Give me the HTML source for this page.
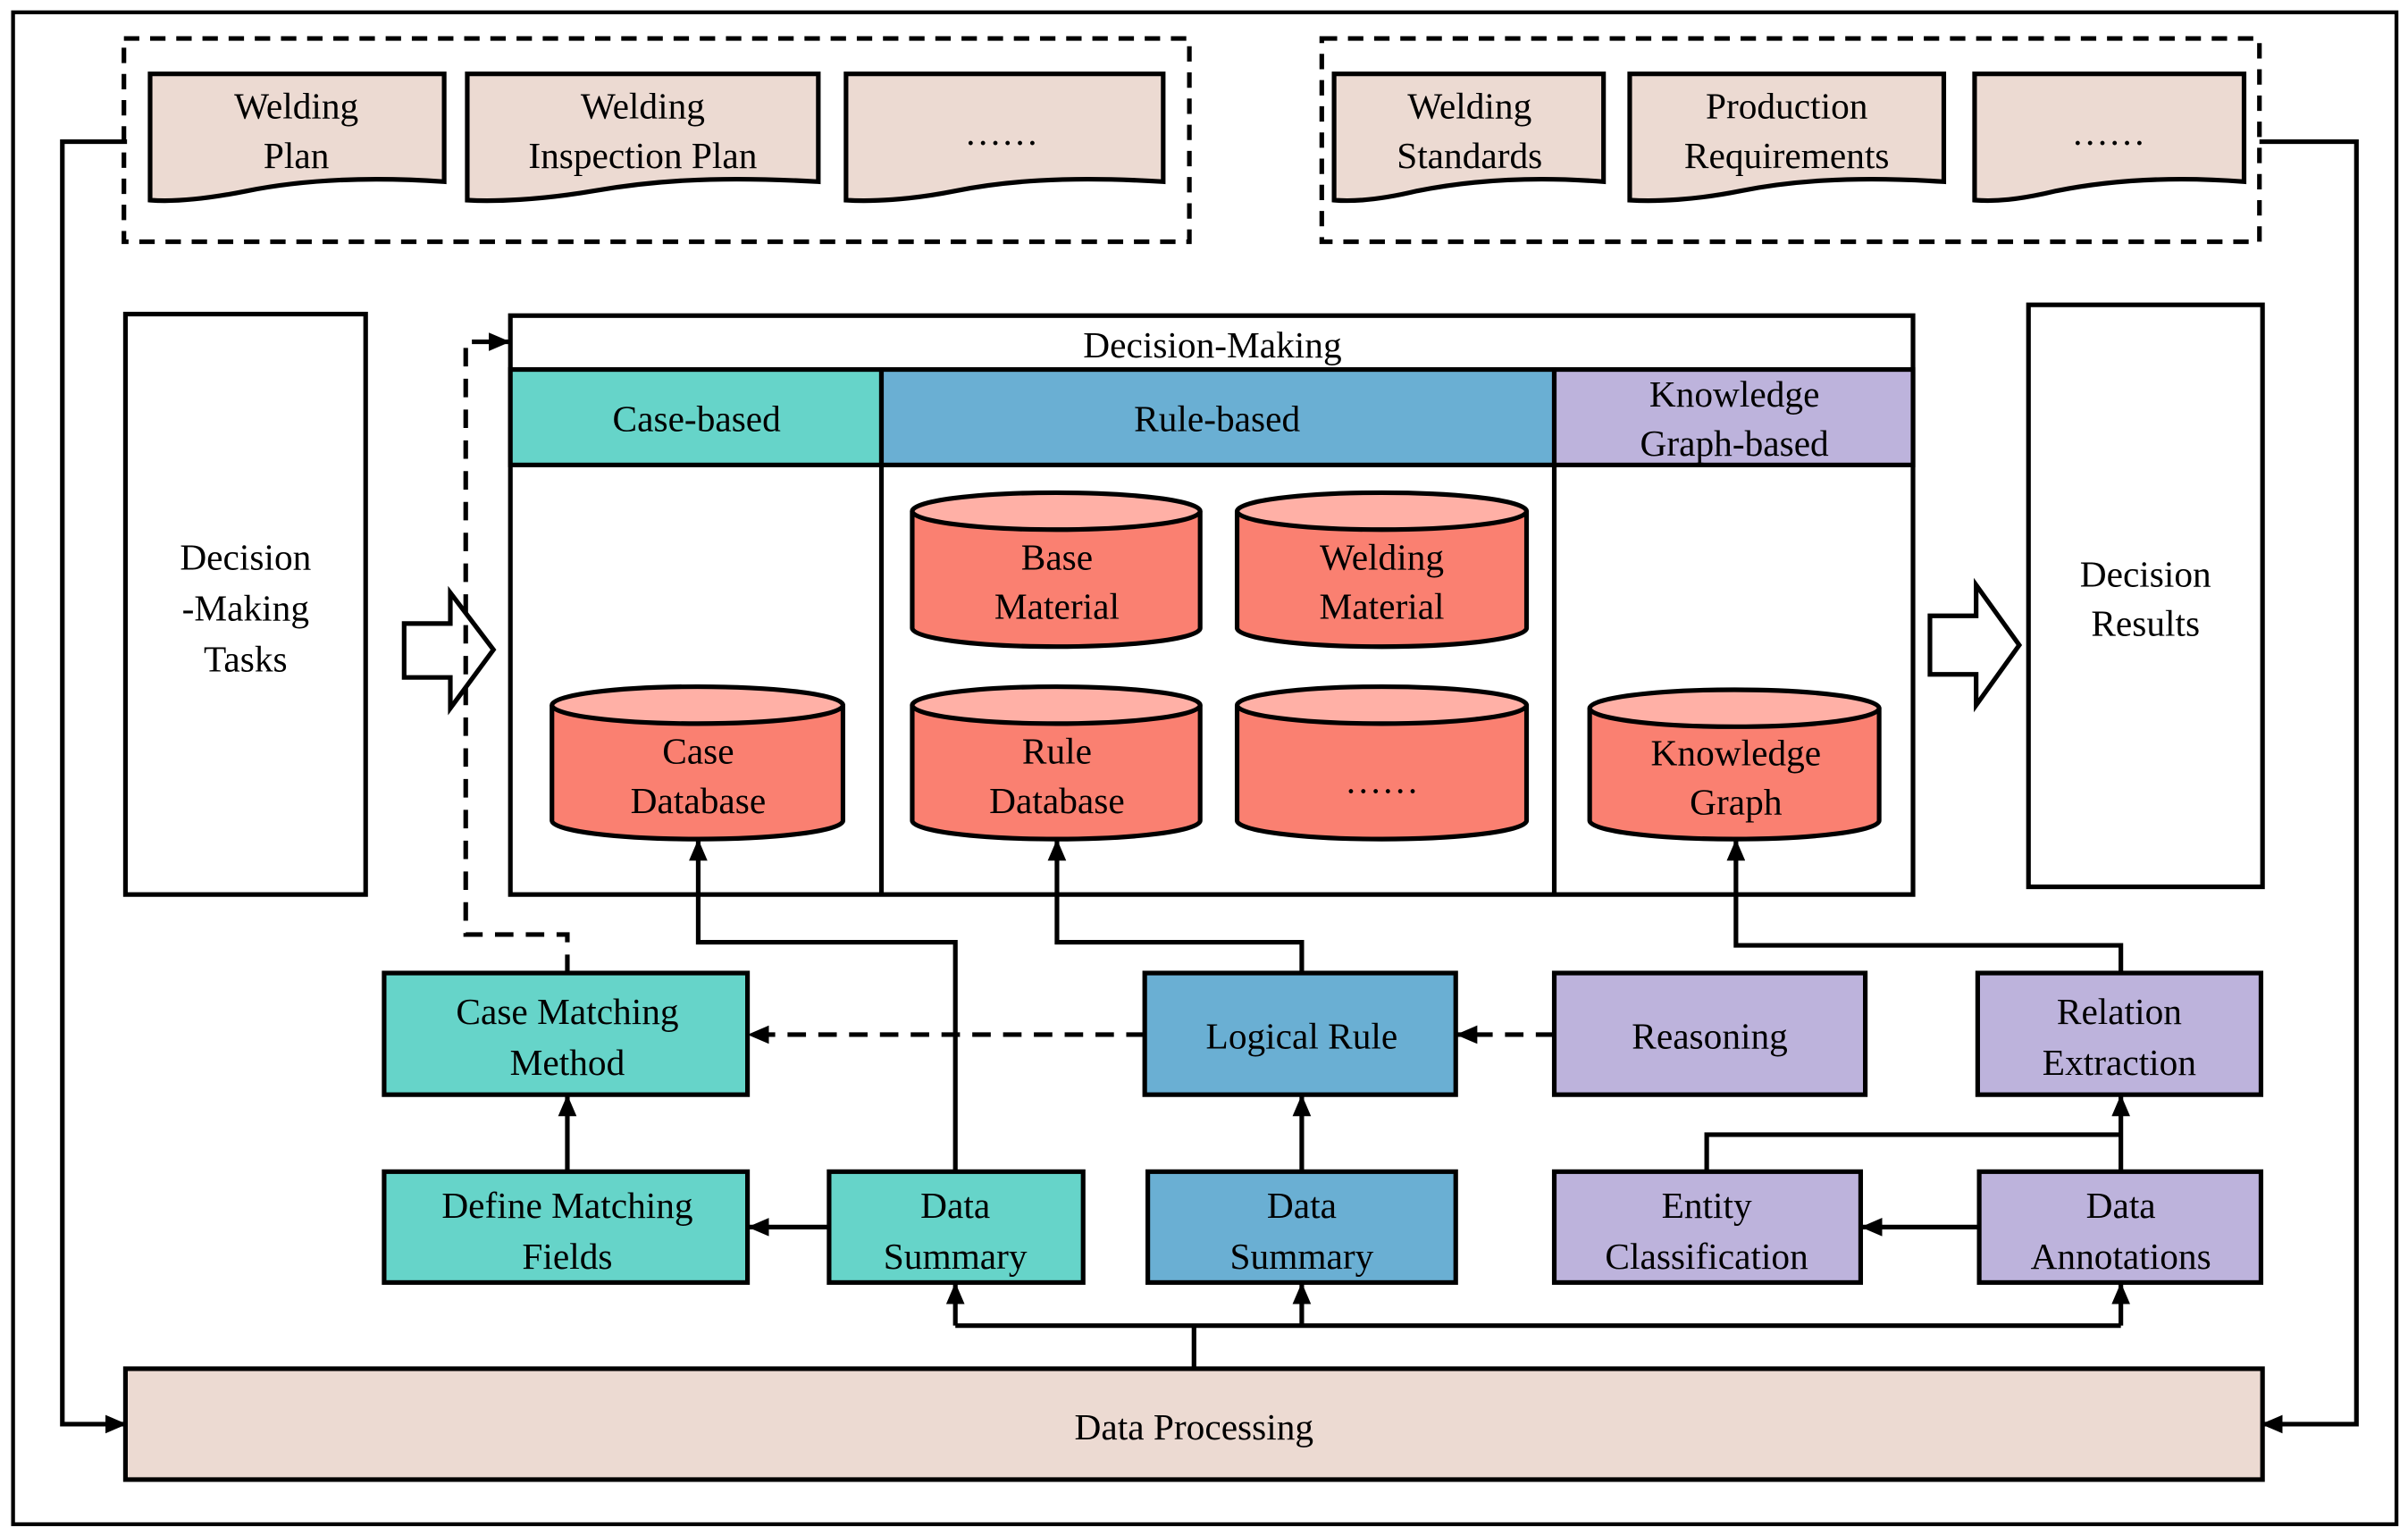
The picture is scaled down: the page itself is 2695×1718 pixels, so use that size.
<!DOCTYPE html>
<html><head><meta charset="utf-8"><style>
html,body{margin:0;padding:0;background:#fff}
svg{display:block}
text{font-family:"Liberation Serif",serif;font-size:24px;fill:#000;text-anchor:middle}
</style></head><body>
<svg width="2695" height="1718" viewBox="0 0 1563 997" xmlns="http://www.w3.org/2000/svg">
<defs>
<marker id="a" viewBox="0 0 14 12" refX="13" refY="6" markerWidth="14" markerHeight="12" orient="auto" markerUnits="userSpaceOnUse">
<path d="M0,0 L14,6 L0,12 z" fill="#000"/>
</marker>
</defs>
<g stroke="#000" stroke-width="3" fill="none">
<rect x="8" y="8" width="1548" height="982" stroke-width="2.5"/>
<rect x="80" y="25" width="692" height="132" stroke-dasharray="10,7"/>
<rect x="858" y="25" width="609" height="132" stroke-dasharray="10,7"/>
</g>
<g stroke="#000" stroke-width="3" fill="#ecdad2">
<path d="M97,48 H288 V118 C230,114 190,118 160,124 C130,130 110,131 97,130 Z"/>
<path d="M303,48 H531 V118 C460,114 420,118 385,124 C350,130 320,131 303,130 Z"/>
<path d="M549,48 H755 V118 C690,114 650,118 620,124 C590,130 565,131 549,130 Z"/>
<path d="M866,48 H1041 V118 C990,114 950,118 920,124 C895,130 878,131 866,130 Z"/>
<path d="M1058,48 H1262 V118 C1200,114 1160,118 1130,124 C1100,130 1075,131 1058,130 Z"/>
<path d="M1282,48 H1457 V118 C1405,114 1365,118 1335,124 C1310,130 1295,131 1282,130 Z"/>
</g>
<text x="192" y="77">Welding</text><text x="192" y="109">Plan</text>
<text x="417" y="77">Welding</text><text x="417" y="109">Inspection Plan</text>
<text x="650" y="94">……</text>
<text x="954" y="77">Welding</text><text x="954" y="109">Standards</text>
<text x="1160" y="77">Production</text><text x="1160" y="109">Requirements</text>
<text x="1369" y="94">……</text>

<g stroke="#000" stroke-width="3" fill="#fff">
<rect x="81" y="204" width="156" height="377"/>
<rect x="1317" y="198" width="152" height="378"/>
<path d="M262,405 H292 V385 L320,422 L292,460 V440 H262 Z"/>
<path d="M1253,400 H1283 V380 L1311,419 L1283,458 V438 H1253 Z"/>
</g>
<text x="159" y="370">Decision</text><text x="159" y="403">-Making</text><text x="159" y="436">Tasks</text>
<text x="1393" y="381">Decision</text><text x="1393" y="413">Results</text>

<g stroke="#000" stroke-width="3">
<rect x="331" y="205" width="911" height="376" fill="#fff"/>
<rect x="331" y="240" width="241" height="62" fill="#66d4c9"/>
<rect x="572" y="240" width="437" height="62" fill="#6aafd3"/>
<rect x="1009" y="240" width="233" height="62" fill="#bdb3dc"/>
<line x1="572" y1="302" x2="572" y2="581"/>
<line x1="1009" y1="302" x2="1009" y2="581"/>
</g>
<text x="787" y="232">Decision-Making</text>
<text x="452" y="280">Case-based</text>
<text x="790" y="280">Rule-based</text>
<text x="1126" y="264">Knowledge</text><text x="1126" y="296">Graph-based</text>

<g stroke="#000" stroke-width="3">
<path d="M592,332 V408 A93.5,12 0 0 0 779,408 V332" fill="#fa8071"/><ellipse cx="685.5" cy="332" rx="93.5" ry="12" fill="#ffb0a6"/>
<path d="M803,332 V408 A94,12 0 0 0 991,408 V332" fill="#fa8071"/><ellipse cx="897" cy="332" rx="94" ry="12" fill="#ffb0a6"/>
<path d="M358,458 V533 A94.5,12 0 0 0 547,533 V458" fill="#fa8071"/><ellipse cx="452.5" cy="458" rx="94.5" ry="12" fill="#ffb0a6"/>
<path d="M592,458 V533 A93.5,12 0 0 0 779,533 V458" fill="#fa8071"/><ellipse cx="685.5" cy="458" rx="93.5" ry="12" fill="#ffb0a6"/>
<path d="M803,458 V533 A94,12 0 0 0 991,533 V458" fill="#fa8071"/><ellipse cx="897" cy="458" rx="94" ry="12" fill="#ffb0a6"/>
<path d="M1032,460 V533 A94,12 0 0 0 1220,533 V460" fill="#fa8071"/><ellipse cx="1126" cy="460" rx="94" ry="12" fill="#ffb0a6"/>
</g>
<text x="686" y="370">Base</text><text x="686" y="402">Material</text>
<text x="897" y="370">Welding</text><text x="897" y="402">Material</text>
<text x="453" y="496">Case</text><text x="453" y="528">Database</text>
<text x="686" y="496">Rule</text><text x="686" y="528">Database</text>
<text x="897" y="515">……</text>
<text x="1127" y="497">Knowledge</text><text x="1127" y="529">Graph</text>

<g stroke="#000" stroke-width="3">
<rect x="249" y="632" width="236" height="79" fill="#66d4c9"/>
<rect x="743" y="632" width="202" height="79" fill="#6aafd3"/>
<rect x="1009" y="632" width="202" height="79" fill="#bdb3dc"/>
<rect x="1284" y="632" width="184" height="79" fill="#bdb3dc"/>
<rect x="249" y="761" width="236" height="72" fill="#66d4c9"/>
<rect x="538" y="761" width="165" height="72" fill="#66d4c9"/>
<rect x="745" y="761" width="200" height="72" fill="#6aafd3"/>
<rect x="1009" y="761" width="199" height="72" fill="#bdb3dc"/>
<rect x="1285" y="761" width="183" height="72" fill="#bdb3dc"/>
<rect x="81" y="889" width="1388" height="72" fill="#ecdad2"/>
</g>
<text x="368" y="665">Case Matching</text><text x="368" y="698">Method</text>
<text x="845" y="681">Logical Rule</text>
<text x="1110" y="681">Reasoning</text>
<text x="1376" y="665">Relation</text><text x="1376" y="698">Extraction</text>
<text x="368" y="791">Define Matching</text><text x="368" y="824">Fields</text>
<text x="620" y="791">Data</text><text x="620" y="824">Summary</text>
<text x="845" y="791">Data</text><text x="845" y="824">Summary</text>
<text x="1108" y="791">Entity</text><text x="1108" y="824">Classification</text>
<text x="1377" y="791">Data</text><text x="1377" y="824">Annotations</text>
<text x="775" y="935">Data Processing</text>

<g stroke="#000" stroke-width="3" fill="none">
<polyline points="82,92 40,92 40,925 81,925" marker-end="url(#a)"/>
<polyline points="1467,92 1530,92 1530,925 1469,925" marker-end="url(#a)"/>
<line x1="775" y1="889" x2="775" y2="861"/>
<polyline points="620,861 1377,861"/>
<line x1="620" y1="861" x2="620" y2="834" marker-end="url(#a)"/>
<line x1="845" y1="861" x2="845" y2="834" marker-end="url(#a)"/>
<line x1="1377" y1="861" x2="1377" y2="834" marker-end="url(#a)"/>
<line x1="538" y1="797" x2="486" y2="797" marker-end="url(#a)"/>
<line x1="368" y1="761" x2="368" y2="712" marker-end="url(#a)"/>
<polyline points="620,761 620,612 453,612 453,546" marker-end="url(#a)"/>
<polyline points="845,632 845,612 686,612 686,546" marker-end="url(#a)"/>
<line x1="845" y1="761" x2="845" y2="712" marker-end="url(#a)"/>
<line x1="743" y1="672" x2="486" y2="672" stroke-dasharray="12,8" marker-end="url(#a)"/>
<line x1="1009" y1="672" x2="946" y2="672" stroke-dasharray="12,8" marker-end="url(#a)"/>
<polyline points="1377,632 1377,614 1127,614 1127,546" marker-end="url(#a)"/>
<line x1="1377" y1="761" x2="1377" y2="712" marker-end="url(#a)"/>
<polyline points="1108,761 1108,737 1377,737"/>
<line x1="1285" y1="797" x2="1209" y2="797" marker-end="url(#a)"/>
<polyline points="368,632 368,607 302,607 302,222 330,222" stroke-dasharray="12,8" marker-end="url(#a)"/>
</g>
</svg>
</body></html>
